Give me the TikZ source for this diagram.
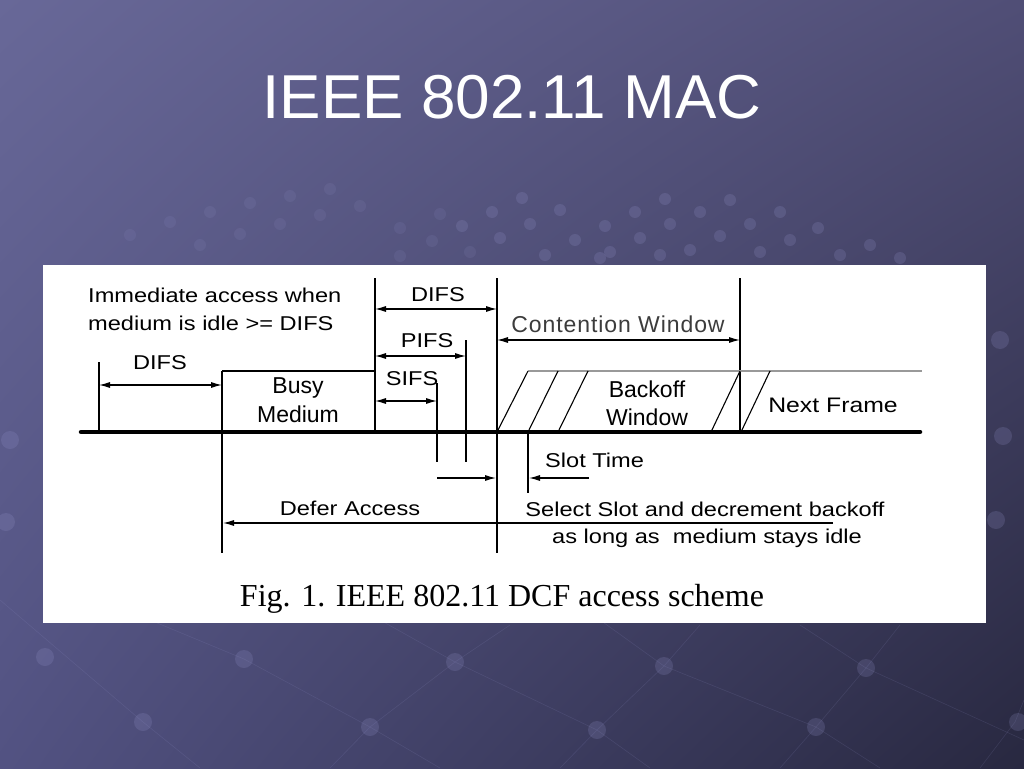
\documentclass[tikz,border=0pt]{standalone}
\usepackage{fontspec}
\setmainfont{Liberation Sans}
\newfontfamily\diagfont[FakeStretch=1.18]{Liberation Sans}
\newfontfamily\cwfont[LetterSpace=4]{Liberation Sans}
\newfontfamily\capfont{Liberation Serif}
\usetikzlibrary{arrows.meta,shadings}
\definecolor{bgUL}{RGB}{104,104,152}
\definecolor{bgUR}{RGB}{80,78,118}
\definecolor{bgLL}{RGB}{82,82,130}
\definecolor{bgLR}{RGB}{40,40,64}
\definecolor{dotc}{RGB}{150,150,205}
\definecolor{cwgray}{RGB}{60,60,60}
\tikzset{
  lbl/.style={font=\diagfont\fontsize{20}{24}\selectfont, inner sep=0pt, anchor=base},
  lblw/.style={lbl, anchor=base west},
  lblbig/.style={font=\fontsize{23}{26}\selectfont, inner sep=0pt, anchor=base},
  ln/.style={line width=1.1pt},
  dimarr/.style={ln, {Latex[length=11pt,width=6pt]}-{Latex[length=11pt,width=6pt]}},
  onearr/.style={ln, -{Latex[length=11pt,width=6pt]}},
  bgdot/.style={fill=dotc, fill opacity=0.2, draw=none},
  bgdotf/.style={fill=dotc, fill opacity=0.12, draw=none},
  bgline/.style={draw=dotc, draw opacity=0.15, line width=0.6pt},
}
\begin{document}
\begin{tikzpicture}[x=1pt,y=-1pt]
\useasboundingbox (0,0) rectangle (1024,768);
% background
\shade[upper left=bgUL, upper right=bgUR, lower left=bgLL, lower right=bgLR] (0,0) rectangle (1024,768);
% decorative lines and dots
\draw[bgline] (0,600) -- (143,722) -- (200,768);
\draw[bgline] (150,620) -- (244,659) -- (370,727) -- (440,768);
\draw[bgline] (380,620) -- (455,662) -- (597,730) -- (650,768);
\draw[bgline] (600,620) -- (664,666) -- (816,727) -- (880,768);
\draw[bgline] (800,625) -- (866,668) -- (1024,740);
\draw[bgline] (330,768) -- (370,727) -- (455,662) -- (510,625);
\draw[bgline] (560,768) -- (597,730) -- (664,666) -- (700,625);
\draw[bgline] (780,768) -- (816,727) -- (866,668) -- (900,625);
\draw[bgline] (980,768) -- (1015,722) -- (1024,700);
\foreach \p in {(45,657),(244,659),(455,662),(664,666),(866,668),(143,722),(370,727),(597,730),(816,727),(1018,722),(1000,340),(1003,436),(996,520),(10,440),(6,522)}
  \fill[bgdot] \p circle (9);
\foreach \p in {(462,226),(492,212),(522,198),(500,238),(530,224),(560,210),(545,255),(575,240),(605,226),(635,212),(665,199),(610,252),(640,238),(670,224),(700,212),(730,200),(690,250),(720,236),(750,224),(780,212),(760,252),(790,240),(818,228),(840,255),(870,245),(900,258),(600,258),(660,255)}
  \fill[bgdot] \p circle (6);
\foreach \p in {(130,235),(170,222),(210,212),(250,203),(290,196),(330,189),(200,245),(240,234),(280,224),(320,215),(360,206),(400,256),(432,241),(470,252),(400,228),(440,214)}
  \fill[bgdotf] \p circle (6);
% title
\node[font=\fontsize{62}{66}\selectfont, text=white, anchor=base] (title) at (512,118) {IEEE 802.11 MAC};
% white panel
\fill[white] (43,265) rectangle (986,623);
% coordinates
\coordinate (v1t) at (99,362);  \coordinate (v1b) at (99,432);
\coordinate (v2t) at (222,371); \coordinate (v2b) at (222,553);
\coordinate (v3t) at (375,278); \coordinate (v3b) at (375,432);
\coordinate (v4t) at (437,383); \coordinate (v4b) at (437,462);
\coordinate (v5t) at (466,340); \coordinate (v5b) at (466,462);
\coordinate (v6t) at (497,278); \coordinate (v6b) at (497,553);
\coordinate (v7t) at (740,278); \coordinate (v7b) at (740,432);
\coordinate (v8t) at (528,432); \coordinate (v8b) at (528,493);
\coordinate (baseL) at (81,432); \coordinate (baseR) at (920,432);
% thick medium line
\draw[line width=4.5pt, line cap=round] (baseL) -- (baseR);
% verticals
\draw[ln] (v1t) -- (v1b);
\draw[ln] (v2t) -- (v2b);
\draw[ln] (v3t) -- (v3b);
\draw[ln] (v4t) -- (v4b);
\draw[ln] (v5t) -- (v5b);
\draw[ln] (v6t) -- (v6b);
\draw[ln] (v7t) -- (v7b);
\draw[ln] (v8t) -- (v8b);
% busy medium top
\draw[ln] (v2t) -- (375,371);
% gray top of backoff / next frame
\draw[line width=1.1pt, gray!80] (528,371) -- (922,371);
% slashes
\draw[ln] (497,432) -- (528,371);
\draw[ln] (528,432) -- (558,371);
\draw[ln] (558,432) -- (588,371);
\draw[ln] (711,432) -- (740,371);
\draw[ln] (741,432) -- (770,371);
% dimension arrows
\draw[dimarr] (99,385) -- (222,385);
\draw[dimarr] (375,309) -- (497,309);
\draw[dimarr] (375,356) -- (466,356);
\draw[dimarr] (375,401) -- (437,401);
\draw[dimarr] (497,340) -- (740,340);
\draw[onearr] (437,478) -- (496,478);
\draw[onearr] (589,478) -- (529,478);
\draw[onearr] (833,523) -- (223,523);
% labels
\node[lblw] (imm1) at (88,302) {Immediate access when};
\node[lblw] (imm2) at (88,330) {medium is idle >= DIFS};
\node[lbl] (difs1) at (160,369) {DIFS};
\node[lbl] (difs2) at (438,301) {DIFS};
\node[lbl] (pifs) at (427,347) {PIFS};
\node[lbl] (sifs) at (412,385) {SIFS};
\node[lblbig] (busy) at (298,393) {Busy};
\node[lblbig] (medium) at (298,422) {Medium};
\node[inner sep=0pt, anchor=base, font=\cwfont\fontsize{23}{26}\selectfont, text=cwgray] (cw) at (618,332) {Contention Window};
\node[lblbig] (backoff) at (647,397) {Backoff};
\node[lblbig] (window) at (647,425) {Window};
\node[lbl, font=\diagfont\fontsize{21}{24}\selectfont] (next) at (833,412) {Next Frame};
\node[lblw] (slot) at (545,467) {Slot Time};
\node[lbl] (defer) at (350,515) {Defer Access};
\node[lbl] (sel1) at (705,516) {Select Slot and decrement backoff};
\node[lbl] (sel2) at (707,543) {as long as\ \ medium stays idle};
\node[inner sep=0pt, anchor=base, font=\capfont\fontsize{32}{35}\selectfont] (caption) at (502,606) {Fig. 1. IEEE 802.11 DCF access scheme};
\end{tikzpicture}
\end{document}
